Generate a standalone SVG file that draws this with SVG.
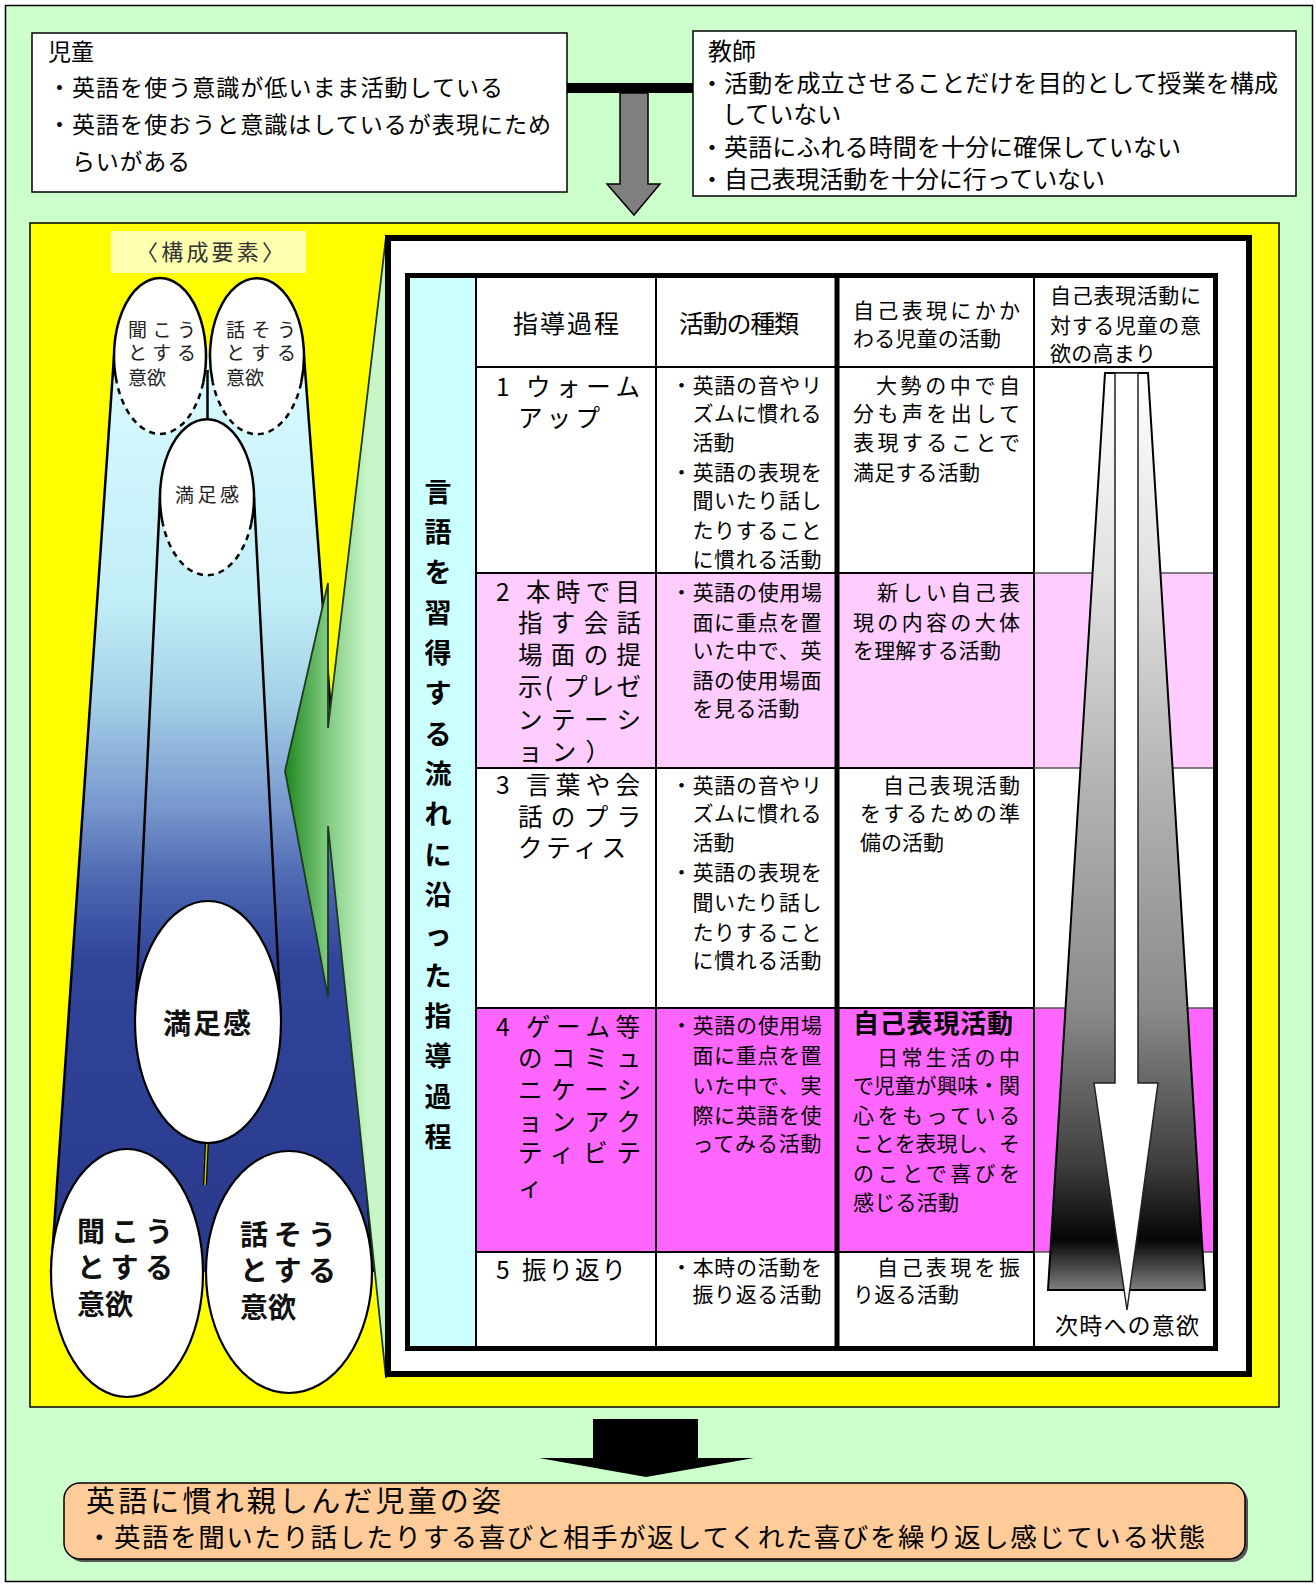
<svg xmlns="http://www.w3.org/2000/svg" width="1316" height="1587" viewBox="0 0 1316 1587">
<defs>
<style>
text { font-family: "Noto Sans CJK JP", "Noto Sans", sans-serif; fill:#000; }
.box { fill:#fff; stroke:#000; stroke-width:1.5; }
.f23 { font-size:23px; }
.f24 { font-size:24px; }
.c2 { font-size:24.5px; }
.c3 { font-size:21px; }
.c4 { font-size:21px; }
.vt { font-size:27px; font-weight:bold; }
.ell { fill:#fff; stroke:none; }
.ells { fill:#fff; stroke:#000; stroke-width:2.2; }
.sol { fill:none; stroke:#000; stroke-width:2.5; }
.dash { fill:none; stroke:#000; stroke-width:2.5; stroke-dasharray:6 5; }
.et { font-size:19px; fill:#222; }
.eb { font-size:28px; font-weight:bold; fill:#111; }
.g { stroke:#000; stroke-width:2; }
.edge { stroke:#000; stroke-width:2.5; }
</style>
<linearGradient id="blue" gradientUnits="userSpaceOnUse" x1="0" y1="360" x2="0" y2="1270">
<stop offset="0" stop-color="#D8FAFF"/>
<stop offset="0.26" stop-color="#C2EEF7"/>
<stop offset="0.37" stop-color="#A6D2E8"/>
<stop offset="0.49" stop-color="#7898CE"/>
<stop offset="0.57" stop-color="#4E68B2"/>
<stop offset="0.66" stop-color="#30449A"/>
<stop offset="1" stop-color="#2A3A8C"/>
</linearGradient>
<linearGradient id="green" gradientUnits="userSpaceOnUse" x1="285" y1="0" x2="368" y2="0">
<stop offset="0" stop-color="#1E861E"/>
<stop offset="0.45" stop-color="#76C476"/>
<stop offset="1" stop-color="#C8F6C8"/>
</linearGradient>
<linearGradient id="gray" gradientUnits="userSpaceOnUse" x1="0" y1="373" x2="0" y2="1290">
<stop offset="0" stop-color="#FFFFFF"/>
<stop offset="0.226" stop-color="#E0E0E0"/>
<stop offset="0.444" stop-color="#B4B4B4"/>
<stop offset="0.695" stop-color="#8A8A8A"/>
<stop offset="0.866" stop-color="#3C3C3C"/>
<stop offset="0.945" stop-color="#050505"/>
<stop offset="1" stop-color="#808080"/>
</linearGradient>
</defs>

<rect x="5.5" y="5.5" width="1307" height="1576" fill="#CCFFCC" stroke="#000" stroke-width="1.5"/>

<g id="child">
<rect class="box" x="32" y="33" width="535" height="159"/>
<text class="f23" x="48" y="60">児童</text>
<text class="f23" x="48" y="96" textLength="455" lengthAdjust="spacing">・英語を使う意識が低いまま活動している</text>
<text class="f23" x="48" y="133" textLength="503" lengthAdjust="spacing">・英語を使おうと意識はしているが表現にため</text>
<text class="f23" x="72" y="170" textLength="118" lengthAdjust="spacing">らいがある</text>
</g>

<g id="teacher">
<rect class="box" x="693" y="31" width="603" height="165"/>
<text class="f24" x="708" y="60">教師</text>
<text class="f24" x="700" y="92" textLength="578" lengthAdjust="spacing">・活動を成立させることだけを目的として授業を構成</text>
<text class="f24" x="722" y="123">していない</text>
<text class="f24" x="700" y="156" textLength="481" lengthAdjust="spacing">・英語にふれる時間を十分に確保していない</text>
<text class="f24" x="700" y="188" textLength="405" lengthAdjust="spacing">・自己表現活動を十分に行っていない</text>
</g>

<g id="connectors">
<rect x="567" y="83" width="126" height="10" fill="#000"/>
<polygon points="620,93 648,93 648,184 660,184 634,215 607,184 620,184" fill="#808080" stroke="#000" stroke-width="1.5"/>
<polygon points="593,1419 698,1419 698,1458 754,1458 646,1477 539,1458 593,1458" fill="#000"/>
</g>

<g id="frame">
<rect x="30" y="223" width="1249" height="1184" fill="#FFFF00" stroke="#000" stroke-width="1.5"/>
</g>

<g id="label">
<rect x="111" y="231" width="195" height="42" fill="#FFFFB0"/>
<text x="136" y="260" font-size="22" textLength="148" lengthAdjust="spacing" style="fill:#333">〈構成要素〉</text>
</g>

<g id="bands">
<polygon points="114,356 304,356 373,1272 51,1272" fill="url(#blue)"/>
<line class="edge" x1="114" y1="356" x2="51" y2="1272"/>
<line class="edge" x1="304" y1="356" x2="373" y2="1272"/>
<line class="edge" x1="160" y1="497" x2="135" y2="1022"/>
<line class="edge" x1="254" y1="497" x2="281" y2="1022"/>
<line x1="207.5" y1="370" x2="207.5" y2="425" stroke="#000" stroke-width="2.5"/>
<line x1="207" y1="1140" x2="205" y2="1185" stroke="#000" stroke-width="4"/>
<line x1="207" y1="1140" x2="205" y2="1185" stroke="#C8C800" stroke-width="1.5"/>
</g>

<g id="listen-top">
<ellipse class="ell" cx="160" cy="356" rx="46" ry="78"/>
<path class="sol" d="M203.2,382.7 A46,78 0 1 0 116.8,382.7"/>
<path class="dash" d="M203.2,382.7 A46,78 0 0 1 116.8,382.7"/>
<text class="et" x="128" y="337" textLength="68" lengthAdjust="spacing">聞こう</text>
<text class="et" x="128" y="360" textLength="68" lengthAdjust="spacing">とする</text>
<text class="et" x="128" y="385">意欲</text>
</g>

<g id="speak-top">
<ellipse class="ell" cx="257" cy="356" rx="47" ry="78"/>
<path class="sol" d="M301.2,382.7 A47,78 0 1 0 212.8,382.7"/>
<path class="dash" d="M301.2,382.7 A47,78 0 0 1 212.8,382.7"/>
<text class="et" x="226" y="337" textLength="70" lengthAdjust="spacing">話そう</text>
<text class="et" x="226" y="360" textLength="70" lengthAdjust="spacing">とする</text>
<text class="et" x="226" y="385">意欲</text>
</g>

<g id="satisfy-top">
<ellipse class="ell" cx="207" cy="497" rx="47" ry="78"/>
<path class="sol" d="M251.2,523.7 A47,78 0 1 0 162.8,523.7"/>
<path class="dash" d="M251.2,523.7 A47,78 0 0 1 162.8,523.7"/>
<text class="et" x="175" y="502" textLength="64" lengthAdjust="spacing">満足感</text>
</g>

<g id="satisfy-big">
<ellipse class="ells" cx="208" cy="1022" rx="73" ry="121"/>
<text class="eb" x="163" y="1034" textLength="88" lengthAdjust="spacing">満足感</text>
</g>

<g id="listen-bottom">
<ellipse class="ells" cx="127" cy="1273" rx="76" ry="124"/>
<text class="eb" x="77" y="1242" textLength="96" lengthAdjust="spacing">聞こう</text>
<text class="eb" x="77" y="1278" textLength="96" lengthAdjust="spacing">とする</text>
<text class="eb" x="77" y="1315">意欲</text>
</g>

<g id="speak-bottom">
<ellipse class="ells" cx="289" cy="1272" rx="83" ry="121"/>
<text class="eb" x="240" y="1245" textLength="96" lengthAdjust="spacing">話そう</text>
<text class="eb" x="240" y="1281" textLength="96" lengthAdjust="spacing">とする</text>
<text class="eb" x="240" y="1318">意欲</text>
</g>

<g id="callout">
<path d="M386,237 L328,728 L328,583 L285,771 L328,997 L328,826 L386,1378 Z" fill="url(#green)" stroke="#1E3A1E" stroke-width="1.8"/>
</g>

<g id="panel">
<rect x="388" y="238" width="861" height="1136" fill="#fff" stroke="#000" stroke-width="6"/>
</g>

<g id="table">
<rect x="407.5" y="275.5" width="808" height="1073" fill="#fff"/>
<rect x="407" y="275" width="69" height="1074" fill="#CCFFFF"/>
<rect x="476" y="573" width="740" height="195" fill="#FFCCFF"/>
<rect x="476" y="1008" width="740" height="244" fill="#FF66FF"/>
<line class="g" x1="476" y1="273" x2="476" y2="1351" stroke-width="2.5"/>
<line class="g" x1="656" y1="273" x2="656" y2="1351"/>
<line class="g" x1="1034" y1="273" x2="1034" y2="1351"/>
<line class="g" x1="476" y1="367" x2="1218" y2="367" stroke-width="2.5"/>
<line class="g" x1="476" y1="573" x2="1034" y2="573"/>
<line class="g" x1="476" y1="768" x2="1034" y2="768"/>
<line class="g" x1="476" y1="1008" x2="1034" y2="1008"/>
<line class="g" x1="476" y1="1252" x2="1034" y2="1252"/>
<line x1="1034" y1="573" x2="1216" y2="573" stroke="#555" stroke-width="1.5"/>
<line x1="1034" y1="768" x2="1216" y2="768" stroke="#555" stroke-width="1.5"/>
<line x1="1034" y1="1008" x2="1216" y2="1008" stroke="#555" stroke-width="1.5"/>
<line x1="1034" y1="1252" x2="1216" y2="1252" stroke="#555" stroke-width="1.5"/>
<line x1="837" y1="273" x2="837" y2="1351" stroke="#000" stroke-width="5"/>
<rect x="407.5" y="275.5" width="808" height="1073" fill="none" stroke="#000" stroke-width="5"/>
</g>

<g id="flow-label">
<text class="vt" text-anchor="middle">
<tspan x="438" y="502">言</tspan><tspan x="438" y="542">語</tspan><tspan x="438" y="582">を</tspan><tspan x="438" y="623">習</tspan><tspan x="438" y="663">得</tspan><tspan x="438" y="703">す</tspan><tspan x="438" y="744">る</tspan><tspan x="438" y="784">流</tspan><tspan x="438" y="824">れ</tspan><tspan x="438" y="865">に</tspan><tspan x="438" y="905">沿</tspan><tspan x="438" y="945">っ</tspan><tspan x="438" y="986">た</tspan><tspan x="438" y="1026">指</tspan><tspan x="438" y="1066">導</tspan><tspan x="438" y="1107">過</tspan><tspan x="438" y="1147">程</tspan>
</text>
</g>

<g id="headers">
<text x="513" y="333" font-size="25" textLength="106" lengthAdjust="spacing">指導過程</text>
<text x="679" y="333" font-size="25" textLength="120" lengthAdjust="spacing">活動の種類</text>
<text class="c4" x="853" y="318" textLength="167" lengthAdjust="spacing">自己表現にかか</text>
<text class="c4" x="853" y="346" textLength="148" lengthAdjust="spacing">わる児童の活動</text>
<text class="c4" x="1050" y="303" textLength="151" lengthAdjust="spacing">自己表現活動に</text>
<text class="c4" x="1050" y="333" textLength="151" lengthAdjust="spacing">対する児童の意</text>
<text class="c4" x="1050" y="361" textLength="106" lengthAdjust="spacing">欲の高まり</text>
</g>

<g id="step1">
<text class="c2" x="496" y="396">1</text>
<text class="c2" x="526" y="396" textLength="114" lengthAdjust="spacing">ウォーム</text>
<text class="c2" x="518" y="427" textLength="82" lengthAdjust="spacing">アップ</text>
<text class="c3" x="671" y="393" textLength="151" lengthAdjust="spacing">・英語の音やリ</text>
<text class="c3" x="692.5" y="421" textLength="129" lengthAdjust="spacing">ズムに慣れる</text>
<text class="c3" x="692.5" y="450">活動</text>
<text class="c3" x="671" y="480" textLength="151" lengthAdjust="spacing">・英語の表現を</text>
<text class="c3" x="692.5" y="508" textLength="129" lengthAdjust="spacing">聞いたり話し</text>
<text class="c3" x="692.5" y="538" textLength="129" lengthAdjust="spacing">たりすること</text>
<text class="c3" x="692.5" y="567" textLength="129" lengthAdjust="spacing">に慣れる活動</text>
<text class="c4" x="876" y="393" textLength="144" lengthAdjust="spacing">大勢の中で自</text>
<text class="c4" x="853" y="421" textLength="167" lengthAdjust="spacing">分も声を出して</text>
<text class="c4" x="853" y="450" textLength="167" lengthAdjust="spacing">表現することで</text>
<text class="c4" x="853" y="480" textLength="127" lengthAdjust="spacing">満足する活動</text>
</g>

<g id="step2">
<text class="c2" x="496" y="601">2</text>
<text class="c2" x="526" y="601" textLength="114" lengthAdjust="spacing">本時で目</text>
<text class="c2" x="518" y="632" textLength="123" lengthAdjust="spacing">指す会話</text>
<text class="c2" x="518" y="664" textLength="123" lengthAdjust="spacing">場面の提</text>
<text class="c2" x="518" y="696" textLength="123" lengthAdjust="spacing">示( プレゼ</text>
<text class="c2" x="518" y="729" textLength="123" lengthAdjust="spacing">ンテーシ</text>
<text class="c2" x="518" y="761" textLength="92" lengthAdjust="spacing">ョン）</text>
<text class="c3" x="671" y="600" textLength="151" lengthAdjust="spacing">・英語の使用場</text>
<text class="c3" x="692.5" y="630" textLength="129" lengthAdjust="spacing">面に重点を置</text>
<text class="c3" x="692.5" y="658" textLength="129" lengthAdjust="spacing">いた中で、英</text>
<text class="c3" x="692.5" y="688" textLength="129" lengthAdjust="spacing">語の使用場面</text>
<text class="c3" x="692.5" y="716" textLength="107" lengthAdjust="spacing">を見る活動</text>
<text class="c4" x="877" y="600" textLength="143" lengthAdjust="spacing">新しい自己表</text>
<text class="c4" x="853" y="630" textLength="167" lengthAdjust="spacing">現の内容の大体</text>
<text class="c4" x="853" y="658" textLength="148" lengthAdjust="spacing">を理解する活動</text>
</g>

<g id="step3">
<text class="c2" x="496" y="794">3</text>
<text class="c2" x="526" y="794" textLength="114" lengthAdjust="spacing">言葉や会</text>
<text class="c2" x="518" y="826" textLength="123" lengthAdjust="spacing">話のプラ</text>
<text class="c2" x="518" y="857" textLength="108" lengthAdjust="spacing">クティス</text>
<text class="c3" x="671" y="793" textLength="151" lengthAdjust="spacing">・英語の音やリ</text>
<text class="c3" x="692.5" y="821" textLength="129" lengthAdjust="spacing">ズムに慣れる</text>
<text class="c3" x="692.5" y="850">活動</text>
<text class="c3" x="671" y="880" textLength="151" lengthAdjust="spacing">・英語の表現を</text>
<text class="c3" x="692.5" y="910" textLength="129" lengthAdjust="spacing">聞いたり話し</text>
<text class="c3" x="692.5" y="940" textLength="129" lengthAdjust="spacing">たりすること</text>
<text class="c3" x="692.5" y="968" textLength="129" lengthAdjust="spacing">に慣れる活動</text>
<text class="c4" x="883" y="793" textLength="137" lengthAdjust="spacing">自己表現活動</text>
<text class="c4" x="860" y="821" textLength="160" lengthAdjust="spacing">をするための準</text>
<text class="c4" x="860" y="850">備の活動</text>
</g>

<g id="step4">
<text class="c2" x="496" y="1036">4</text>
<text class="c2" x="526" y="1036" textLength="114" lengthAdjust="spacing">ゲーム等</text>
<text class="c2" x="518" y="1067" textLength="123" lengthAdjust="spacing">のコミュ</text>
<text class="c2" x="518" y="1099" textLength="123" lengthAdjust="spacing">ニケーシ</text>
<text class="c2" x="518" y="1131" textLength="123" lengthAdjust="spacing">ョンアク</text>
<text class="c2" x="518" y="1162" textLength="123" lengthAdjust="spacing">ティビテ</text>
<text class="c2" x="518" y="1196">ィ</text>
<text class="c3" x="671" y="1033" textLength="151" lengthAdjust="spacing">・英語の使用場</text>
<text class="c3" x="692.5" y="1063" textLength="129" lengthAdjust="spacing">面に重点を置</text>
<text class="c3" x="692.5" y="1093" textLength="129" lengthAdjust="spacing">いた中で、実</text>
<text class="c3" x="692.5" y="1123" textLength="129" lengthAdjust="spacing">際に英語を使</text>
<text class="c3" x="692.5" y="1151" textLength="129" lengthAdjust="spacing">ってみる活動</text>
<text x="853" y="1033" font-size="26" font-weight="bold" textLength="160" lengthAdjust="spacing">自己表現活動</text>
<text class="c4" x="877" y="1065" textLength="143" lengthAdjust="spacing">日常生活の中</text>
<text class="c4" x="853" y="1093" textLength="167" lengthAdjust="spacing">で児童が興味・関</text>
<text class="c4" x="853" y="1123" textLength="167" lengthAdjust="spacing">心をもっている</text>
<text class="c4" x="853" y="1151" textLength="167" lengthAdjust="spacing">ことを表現し、そ</text>
<text class="c4" x="853" y="1181" textLength="167" lengthAdjust="spacing">のことで喜びを</text>
<text class="c4" x="853" y="1210" textLength="106" lengthAdjust="spacing">感じる活動</text>
</g>

<g id="step5">
<text class="c2" x="496" y="1279">5</text>
<text class="c2" x="522" y="1279" textLength="104" lengthAdjust="spacing">振り返り</text>
<text class="c3" x="671" y="1275" textLength="151" lengthAdjust="spacing">・本時の活動を</text>
<text class="c3" x="692.5" y="1302" textLength="129" lengthAdjust="spacing">振り返る活動</text>
<text class="c4" x="877" y="1275" textLength="143" lengthAdjust="spacing">自己表現を振</text>
<text class="c4" x="853" y="1302" textLength="106" lengthAdjust="spacing">り返る活動</text>
</g>

<g id="motivation-arrow">
<polygon points="1105,373 1148,373 1205,1290 1048,1290" fill="url(#gray)" stroke="#000" stroke-width="2"/>
<polygon points="1115,373 1138,373 1138,1083 1158,1083 1127,1310 1094,1083 1115,1083" fill="#fff" stroke="#222" stroke-width="1.5"/>
<text x="1055" y="1334" font-size="23" textLength="144" lengthAdjust="spacing">次時への意欲</text>
</g>

<g id="result">
<rect x="67" y="1486" width="1181" height="76" rx="16" fill="#555"/>
<rect x="64" y="1483" width="1181" height="76" rx="16" fill="#FFCC99" stroke="#000" stroke-width="1.5"/>
<text x="86" y="1512" font-size="29" textLength="415" lengthAdjust="spacing">英語に慣れ親しんだ児童の姿</text>
<text x="86" y="1547" font-size="26.5" textLength="1119" lengthAdjust="spacing">・英語を聞いたり話したりする喜びと相手が返してくれた喜びを繰り返し感じている状態</text>
</g>
</svg>
